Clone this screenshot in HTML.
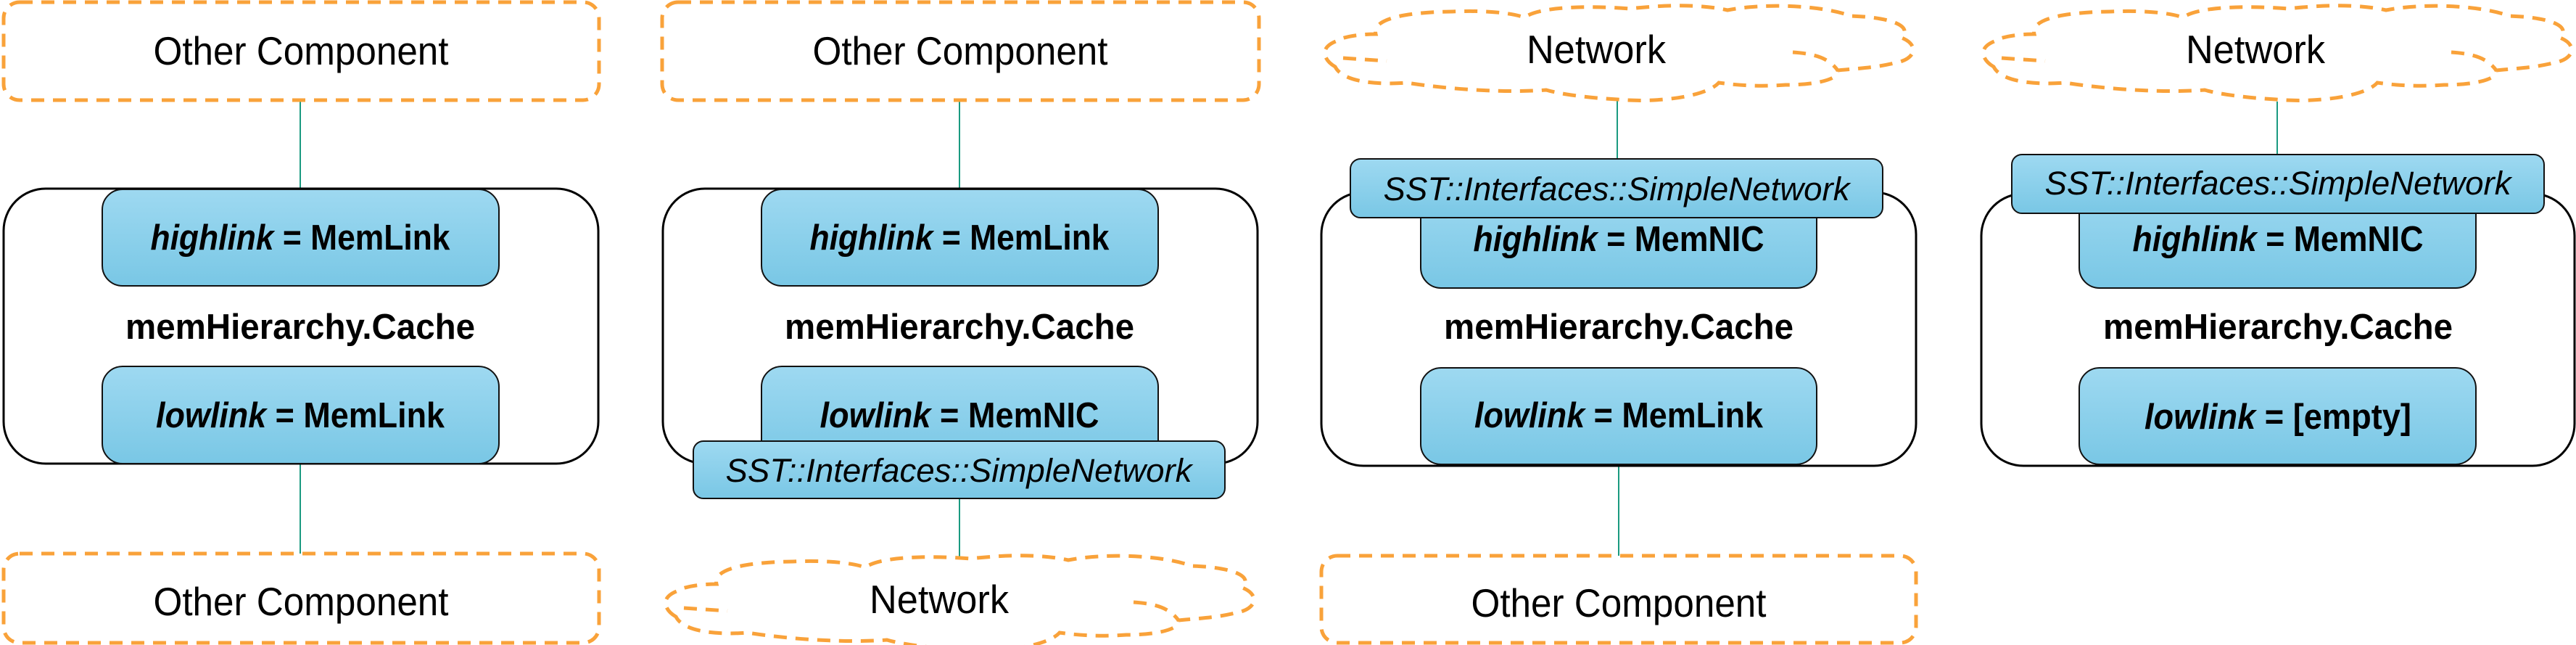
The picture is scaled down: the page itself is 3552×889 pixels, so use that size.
<!DOCTYPE html>
<html><head><meta charset="utf-8"><style>
html,body{margin:0;padding:0;background:#fff;}
svg{display:block;}
text{font-family:"Liberation Sans",sans-serif;fill:#000;}
.b{font-weight:bold;font-size:49px;}
.o{font-size:55px;}
.s{font-style:italic;font-size:45px;}
</style></head><body>
<svg width="3552" height="889" viewBox="0 0 3552 889" xmlns="http://www.w3.org/2000/svg">
<defs>
<linearGradient id="g" x1="0" y1="0" x2="0" y2="1"><stop offset="0" stop-color="#9ed9f1"/><stop offset="1" stop-color="#79c7e5"/></linearGradient>
<g id="cloud">
<path d="M 19,90 C 5,82 -5,65 20,55 C 30,48 55,45 75,45 C 70,25 110,15 180,14 C 220,12 260,15 280,22 C 300,8 360,5 425,10 C 470,5 520,3 560,12 C 610,2 690,5 730,20 C 790,22 815,35 800,50 C 825,60 820,80 790,85 C 760,92 740,92 712,95 C 715,108 680,115 640,115 C 600,118 570,115 548,112 C 530,132 460,140 408,135 C 370,133 330,128 310,122 C 260,126 180,122 118,112 C 80,115 30,112 19,90 Z M 30,78 L 90,82 M 650,70 C 680,72 700,78 712,95" fill="none" stroke="#f9a23a" stroke-width="5" stroke-dasharray="18 12"/>
</g>
</defs>
<g stroke="#1a9a80" stroke-width="2">
<line x1="414" y1="138" x2="414" y2="262"/><line x1="414" y1="639" x2="414" y2="763"/>
<line x1="1323" y1="138" x2="1323" y2="262"/><line x1="1323" y1="687" x2="1323" y2="770"/>
<line x1="2230" y1="138" x2="2230" y2="220"/><line x1="2232" y1="640" x2="2232" y2="766"/>
<line x1="3140" y1="140" x2="3140" y2="214"/>
</g>
<g fill="none" stroke="#f9a23a" stroke-width="5" stroke-dasharray="18 12">
<rect x="5" y="3" width="821" height="135" rx="22"/>
<rect x="5" y="763" width="821" height="123" rx="22"/>
<rect x="913" y="3" width="823" height="135" rx="22"/>
<rect x="1822" y="766" width="820" height="120" rx="22"/>
</g>
<use href="#cloud" x="913" y="760"/>
<use href="#cloud" x="1822" y="2"/>
<use href="#cloud" x="2730" y="2"/>
<g fill="#fff" stroke="#000" stroke-width="3">
<rect x="5" y="260" width="820" height="379" rx="58"/>
<rect x="914" y="260" width="820" height="379" rx="58"/>
<rect x="1822" y="265" width="820" height="377" rx="58"/>
<rect x="2732" y="267" width="818" height="375" rx="58"/>
</g>
<g fill="url(#g)" stroke="#111" stroke-width="2">
<rect x="141" y="261" width="547" height="133" rx="28"/>
<rect x="141" y="505" width="547" height="134" rx="28"/>
<rect x="1050" y="261" width="547" height="133" rx="28"/>
<rect x="1050" y="505" width="547" height="134" rx="28"/>
<rect x="956" y="608" width="733" height="79" rx="14"/>
<rect x="1959" y="260" width="546" height="137" rx="28"/>
<rect x="1959" y="507" width="546" height="133" rx="28"/>
<rect x="1862" y="219" width="734" height="81" rx="14"/>
<rect x="2867" y="255" width="547" height="142" rx="28"/>
<rect x="2867" y="507" width="547" height="133" rx="28"/>
<rect x="2774" y="213" width="734" height="81" rx="14"/>
</g>
<g text-anchor="middle">
<text class="o" x="415" y="89" textLength="407" lengthAdjust="spacingAndGlyphs">Other Component</text>
<text class="o" x="415" y="848" textLength="407" lengthAdjust="spacingAndGlyphs">Other Component</text>
<text class="o" x="1324" y="89" textLength="407" lengthAdjust="spacingAndGlyphs">Other Component</text>
<text class="o" x="2232" y="850" textLength="407" lengthAdjust="spacingAndGlyphs">Other Component</text>
<text class="o" x="1295" y="845" textLength="192" lengthAdjust="spacingAndGlyphs">Network</text>
<text class="o" x="2201" y="87" textLength="192" lengthAdjust="spacingAndGlyphs">Network</text>
<text class="o" x="3110" y="87" textLength="192" lengthAdjust="spacingAndGlyphs">Network</text>

<text class="b" x="414" y="467" textLength="482" lengthAdjust="spacingAndGlyphs">memHierarchy.Cache</text>
<text class="b" x="1323" y="467" textLength="482" lengthAdjust="spacingAndGlyphs">memHierarchy.Cache</text>
<text class="b" x="2232" y="467" textLength="482" lengthAdjust="spacingAndGlyphs">memHierarchy.Cache</text>
<text class="b" x="3141" y="467" textLength="482" lengthAdjust="spacingAndGlyphs">memHierarchy.Cache</text>

<text class="b" x="414" y="344" textLength="413" lengthAdjust="spacingAndGlyphs"><tspan font-style="italic">highlink</tspan> = MemLink</text>
<text class="b" x="414" y="589" textLength="398" lengthAdjust="spacingAndGlyphs"><tspan font-style="italic">lowlink</tspan> = MemLink</text>
<text class="b" x="1323" y="344" textLength="413" lengthAdjust="spacingAndGlyphs"><tspan font-style="italic">highlink</tspan> = MemLink</text>
<text class="b" x="1323" y="589" textLength="385" lengthAdjust="spacingAndGlyphs"><tspan font-style="italic">lowlink</tspan> = MemNIC</text>
<text class="b" x="2232" y="346" textLength="401" lengthAdjust="spacingAndGlyphs"><tspan font-style="italic">highlink</tspan> = MemNIC</text>
<text class="b" x="2232" y="589" textLength="398" lengthAdjust="spacingAndGlyphs"><tspan font-style="italic">lowlink</tspan> = MemLink</text>
<text class="b" x="3141" y="346" textLength="401" lengthAdjust="spacingAndGlyphs"><tspan font-style="italic">highlink</tspan> = MemNIC</text>
<text class="b" x="3141" y="591" textLength="368" lengthAdjust="spacingAndGlyphs"><tspan font-style="italic">lowlink</tspan> = [empty]</text>

<text class="s" x="1322" y="664" textLength="643" lengthAdjust="spacingAndGlyphs">SST::Interfaces::SimpleNetwork</text>
<text class="s" x="2229" y="276" textLength="643" lengthAdjust="spacingAndGlyphs">SST::Interfaces::SimpleNetwork</text>
<text class="s" x="3141" y="268" textLength="643" lengthAdjust="spacingAndGlyphs">SST::Interfaces::SimpleNetwork</text>
</g>
</svg>
</body></html>
